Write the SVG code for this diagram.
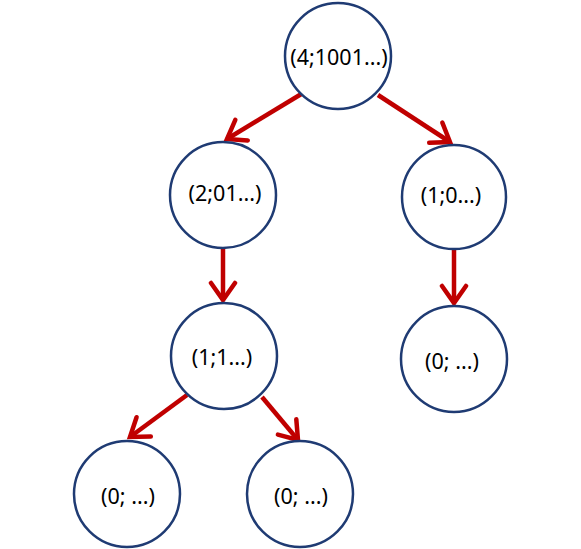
<svg xmlns="http://www.w3.org/2000/svg" width="581" height="549" viewBox="0 0 581 549">
<style>
.node circle{fill:#fff;stroke:#1F3B73;stroke-width:2.5}
.node text{font-family:"Noto Sans","Open Sans",sans-serif;font-size:21.5px;fill:#000;text-anchor:middle;dominant-baseline:central}
.edge{stroke:#C00000;stroke-width:4.5;fill:none}
</style>
<defs>
<marker id="ah" markerUnits="userSpaceOnUse" markerWidth="30" markerHeight="30" viewBox="-25 -15 30 30" refX="0" refY="0" orient="auto">
<path d="M-17,-12 L0,0 L-17,12" fill="none" stroke="#C00000" stroke-width="4.5" stroke-linecap="round" stroke-linejoin="miter"/>
</marker>
</defs>
<rect width="581" height="549" fill="#fff"/>
<g id="connectors">
<line class="edge" x1="303" y1="93" x2="227" y2="139" marker-end="url(#ah)"/>
<line class="edge" x1="378" y1="95" x2="450" y2="142" marker-end="url(#ah)"/>
<line class="edge" x1="223" y1="248" x2="223" y2="300" marker-end="url(#ah)"/>
<line class="edge" x1="454" y1="250" x2="454" y2="303" marker-end="url(#ah)"/>
<line class="edge" x1="187" y1="395" x2="130" y2="437" marker-end="url(#ah)"/>
<line class="edge" x1="262" y1="397" x2="298" y2="440" marker-end="url(#ah)"/>
</g>
<g id="n1" class="node"><circle cx="338" cy="56" r="53"/><text x="339" y="56">(4;1001...)</text></g>
<g id="n2" class="node"><circle cx="223" cy="195" r="53"/><text x="225" y="192">(2;01...)</text></g>
<g id="n3" class="node"><circle cx="454" cy="197" r="52"/><text x="451" y="194">(1;0...)</text></g>
<g id="n4" class="node"><circle cx="224" cy="356" r="53"/><text x="222" y="356">(1;1...)</text></g>
<g id="n5" class="node"><circle cx="454" cy="359" r="53"/><text x="452" y="360">(0; ...)</text></g>
<g id="n6" class="node"><circle cx="127" cy="494" r="53"/><text x="128" y="495">(0; ...)</text></g>
<g id="n7" class="node"><circle cx="300" cy="494" r="53"/><text x="301" y="495">(0; ...)</text></g>
</svg>
